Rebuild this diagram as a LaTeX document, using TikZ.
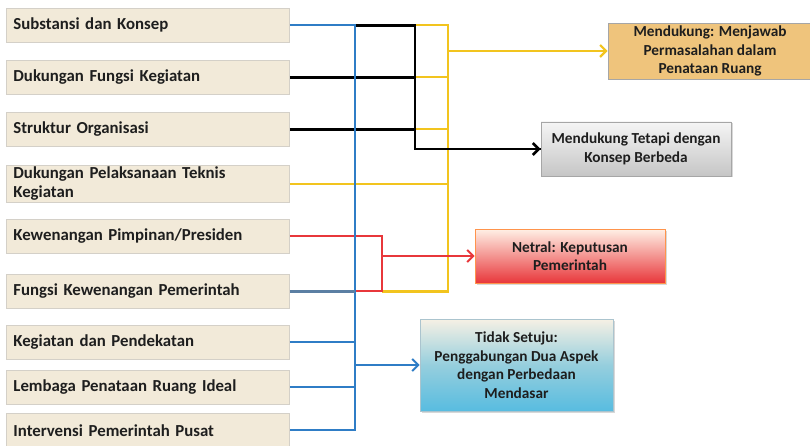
\documentclass[tikz,border=0pt]{standalone}
\usepackage{fontspec}
\setmainfont{Carlito}[BoldFont={Carlito Bold}]
\usetikzlibrary{arrows.meta,shadows}
\definecolor{lfill}{HTML}{F2EAD9}
\definecolor{lborder}{HTML}{D4D0C8}
\definecolor{cblue}{HTML}{2F7DC6}
\definecolor{csteel}{HTML}{5B7FA3}
\definecolor{cred}{HTML}{E8373B}
\definecolor{cyel}{HTML}{F2C41E}
\definecolor{corange}{HTML}{EFC47C}
\definecolor{ccyan}{HTML}{58BCE0}
\definecolor{ctxt}{HTML}{1E1E1E}
\tikzset{
  lbox/.style={draw=lborder, line width=0.8pt, fill=lfill, anchor=north west,
    text width=269pt, inner xsep=7pt, inner ysep=0pt, minimum height=34pt,
    align=left, text=ctxt, font=\fontsize{16.8}{19}\selectfont\bfseries,
    drop shadow={opacity=0.25, shadow xshift=1pt, shadow yshift=-1pt}},
  rbox/.style={draw=gray!70, line width=0.8pt, align=center, inner sep=0pt,
    text=ctxt, font=\fontsize{15.3}{18.5}\selectfont\bfseries,
    drop shadow={opacity=0.3, shadow xshift=1.5pt, shadow yshift=-1.5pt}},
  bl/.style={draw=cblue, line width=2pt},
  st/.style={draw=csteel, line width=2.5pt},
  rd/.style={draw=cred, line width=2pt},
  yl/.style={draw=cyel, line width=2.2pt},
  bk/.style={draw=black, line width=2.6pt},
  tip/.style={-{Straight Barb[length=6pt,width=12pt]}},
}
\begin{document}
\begin{tikzpicture}[x=1pt,y=-1pt]
\useasboundingbox (0,0) rectangle (810,446);
\fill[white] (0,0) rectangle (810,446);
% left boxes
\node[lbox] (b1) at (6,8) {Substansi dan Konsep};
\node[lbox] (b2) at (6,60) {Dukungan Fungsi Kegiatan};
\node[lbox] (b3) at (6,112) {Struktur Organisasi};
\node[lbox, minimum height=37pt] (b4) at (6,165) {Dukungan Pelaksanaan Teknis\\Kegiatan};
\node[lbox] (b5) at (6,219) {Kewenangan Pimpinan/Presiden};
\node[lbox] (b6) at (6,274) {Fungsi Kewenangan Pemerintah};
\node[lbox] (b7) at (6,325) {Kegiatan dan Pendekatan};
\node[lbox] (b8) at (6,370) {Lembaga Penataan Ruang Ideal};
\node[lbox] (b9) at (6,413) {Intervensi Pemerintah Pusat};
% right boxes
\node[rbox, fill=corange, minimum width=204pt, minimum height=56pt] (mend) at (710,51)
  {Mendukung: Menjawab\\Permasalahan dalam\\Penataan Ruang};
\node[rbox, top color=gray!8, bottom color=gray!45, minimum width=190pt, minimum height=54pt] (grey) at (636,149)
  {Mendukung Tetapi dengan\\Konsep Berbeda};
\node[rbox, draw=orange!80!red!70, top color=red!15!orange!10!white, middle color=red!22!white, bottom color=cred,
  minimum width=190pt, minimum height=54pt] (netral) at (570,256)
  {Netral: Keputusan\\Pemerintah};
\node[rbox, draw=cyan!30!gray!60, top color=lfill!70!white, bottom color=ccyan, middle color=ccyan!60!lfill,
  minimum width=193pt, minimum height=92pt] (tidak) at (516.5,365)
  {Tidak Setuju:\\Penggabungan Dua Aspek\\dengan Perbedaan\\Mendasar};
% vertical positions
\coordinate (xB) at (355,0);
\coordinate (xR) at (382,0);
\coordinate (xK) at (415,0);
\coordinate (xY) at (448,0);
% yellow
\draw[yl] (b1.east -| xK) -- (b1.east -| xY) -- (b6.east -| xY) -- (b6.east -| xR);
\draw[yl] (b2.east -| xK) -- (b2.east -| xY);
\draw[yl] (b3.east -| xK) -- (b3.east -| xY);
\draw[yl] (b4.east) -- (b4.east -| xY);
\draw[yl, tip] (mend.west -| xY) -- (mend.west);
% red
\draw[rd] (b5.east) -- (b5.east -| xR) -- (b6.east -| xR) -- (b6.east -| xB);
\draw[rd, tip] (netral.west -| xR) -- (netral.west);
% black
\draw[bk] (b1.east -| xB) -- (b1.east -| xK) -- (grey.west -| xK) -- (grey.west);
\draw[bk, tip] (grey.west -| xK) -- (grey.west);
\draw[bk] (b2.east) -- (b2.east -| xK);
\draw[bk] (b3.east) -- (b3.east -| xK);
% blue
\draw[bl] (b1.east) -- (b1.east -| xB) -- (b9.east -| xB) -- (b9.east);
\draw[bl] (b7.east) -- (b7.east -| xB);
\draw[bl] (b8.east) -- (b8.east -| xB);
\draw[st] (b6.east) -- (b6.east -| xB);
\draw[bl, tip] (tidak.west -| xB) -- (tidak.west);
\end{tikzpicture}
\end{document}
